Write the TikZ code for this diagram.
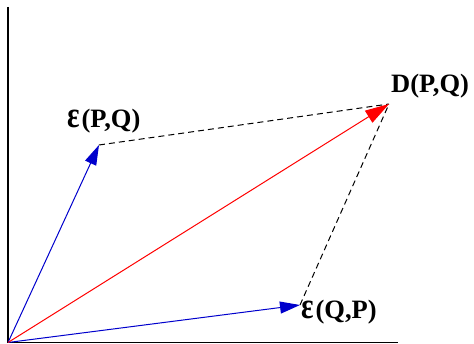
\documentclass[tikz,border=0pt]{standalone}
\usepackage{fontspec}
\setmainfont{Liberation Serif}
\usetikzlibrary{arrows.meta}
\newcommand{\bigeps}{\scalebox{1.1}[1.4]{ε}\kern2pt}
\begin{document}
\begin{tikzpicture}[x=1pt,y=-1pt,
  axis/.style={line width=1.3pt,black},
  vec/.style={line width=1pt,-{Triangle[length=20pt,width=12pt]}},
  dashline/.style={line width=1pt,dash pattern=on 6pt off 4pt},
  lbl/.style={font=\fontsize{26.5}{28}\selectfont\bfseries,inner sep=0pt}]
\useasboundingbox (0,0) rectangle (474,344);
\coordinate (top) at (8,7);
\coordinate (O) at (8,342.5);
\coordinate (right) at (398,342.5);
\coordinate (E1) at (99,145);
\coordinate (E2) at (300,305);
\coordinate (D) at (389,104);
\draw[axis] (top) -- (O) -- (right);
\draw[dashline] (E1) -- (D);
\draw[dashline] (E2) -- (D);
\draw[vec,blue!80!black] (O) -- (E1);
\draw[vec,blue!80!black] (O) -- (E2);
\draw[line width=1pt,red,-{Triangle[length=24pt,width=14pt]}] (O) -- (D);
\node[lbl,anchor=west] (l1) at (67,121) {\bigeps(P,Q)};
\node[lbl,anchor=west] (l2) at (391,86) {D(P,Q)};
\node[lbl,anchor=west] (l3) at (301,312) {\bigeps(Q,P)};
\end{tikzpicture}
\end{document}
